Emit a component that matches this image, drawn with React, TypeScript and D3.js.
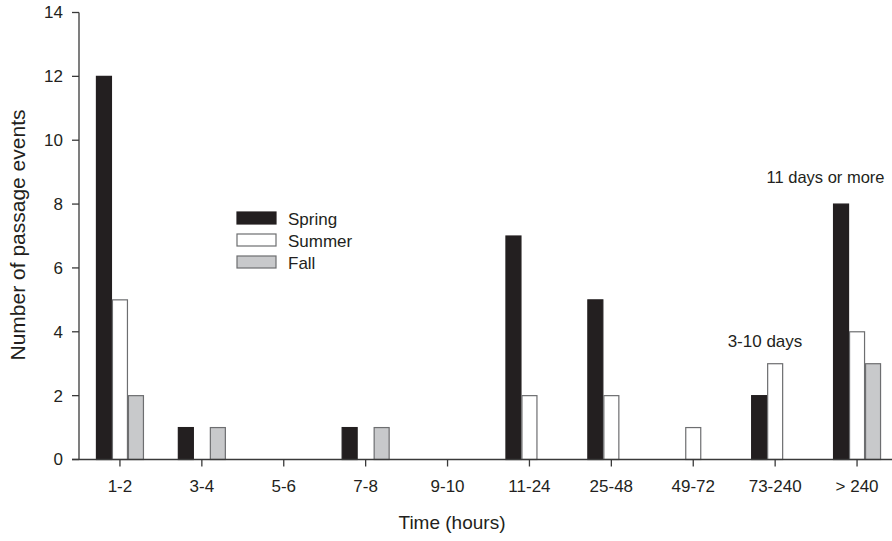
import React from "react";
import * as d3 from "d3";

const categories = ["1-2", "3-4", "5-6", "7-8", "9-10", "11-24", "25-48", "49-72", "73-240", "> 240"];
const spring = [12, 1, 0, 1, 0, 7, 5, 0, 2, 8];
const summer = [5, 0, 0, 0, 0, 2, 2, 1, 3, 4];
const fall = [2, 1, 0, 1, 0, 0, 0, 0, 0, 3];
const seriesNames = ["Spring", "Summer", "Fall"];
const yTicks = [0, 2, 4, 6, 8, 10, 12, 14];

const W = 892, H = 541;
const fills = ["#231f20", "#ffffff", "#c8c9cb"];
const strokes = ["#231f20", "#6d6e70", "#6d6e70"];
const font = "Liberation Sans, Arial, sans-serif";
const ink = "#231f20";

export default function App() {
  const x = d3.scaleBand<string>().domain(categories).range([79, 898]).paddingInner(0).paddingOuter(0);
  const y = d3.scaleLinear().domain([0, 14]).range([459.5, 12.5]);
  const barW = 16;
  const sub = d3.scaleBand<string>().domain(seriesNames).range([-barW * 1.5, barW * 1.5]);
  const data = [spring, summer, fall];
  const y0 = y(0);

  return (
    <svg width={W} height={H} style={{ position: "absolute", left: 0, top: 0, background: "#fff" }} fontFamily={font}>
      {data.map((vals, si) =>
        vals.map((v, i) => {
          if (v <= 0) return null;
          const cx = (x(categories[i]) as number) + x.bandwidth() / 2;
          const bx = cx + (sub(seriesNames[si]) as number);
          return (
            <rect key={`${si}-${i}`} x={bx + 0.5} y={y(v)} width={barW - 1} height={y0 - y(v)}
              fill={fills[si]} stroke={strokes[si]} strokeWidth={1.2} />
          );
        })
      )}
      <line x1={79} x2={79} y1={y(14)} y2={y0} stroke="#3a3a3a" strokeWidth={1.3} />
      {yTicks.map((t) => (
        <g key={t}>
          <line x1={72} x2={79} y1={y(t)} y2={y(t)} stroke="#3a3a3a" strokeWidth={1.3} />
          <text x={63} y={y(t)} dy="0.35em" textAnchor="end" fontSize={17} fill={ink}>{t}</text>
        </g>
      ))}
      <line x1={72} x2={W} y1={y0} y2={y0} stroke="#3a3a3a" strokeWidth={1.3} />
      {categories.map((c) => {
        const cx = (x(c) as number) + x.bandwidth() / 2;
        return (
          <g key={c}>
            <line x1={cx} x2={cx} y1={y0} y2={y0 + 7} stroke="#3a3a3a" strokeWidth={1.3} />
            <text x={cx} y={492} textAnchor="middle" fontSize={17} fill={ink}>{c}</text>
          </g>
        );
      })}
      <text x={452} y={529} textAnchor="middle" fontSize={19} fill={ink}>Time (hours)</text>
      <text transform={`translate(25,235) rotate(-90)`} textAnchor="middle" fontSize={21} fill={ink}>Number of passage events</text>
      {seriesNames.map((s, i) => (
        <g key={s} transform={`translate(237,${212 + i * 22})`}>
          <rect x={0} y={0} width={39} height={12} fill={fills[i]} stroke={strokes[i]} strokeWidth={1.2} />
          <text x={51} y={12.5} fontSize={17} fill={ink}>{s}</text>
        </g>
      ))}
      <text x={825.5} y={183} textAnchor="middle" fontSize={16.5} fill={ink}>11 days or more</text>
      <text x={765} y={346.5} textAnchor="middle" fontSize={17} fill={ink}>3-10 days</text>
    </svg>
  );
}
